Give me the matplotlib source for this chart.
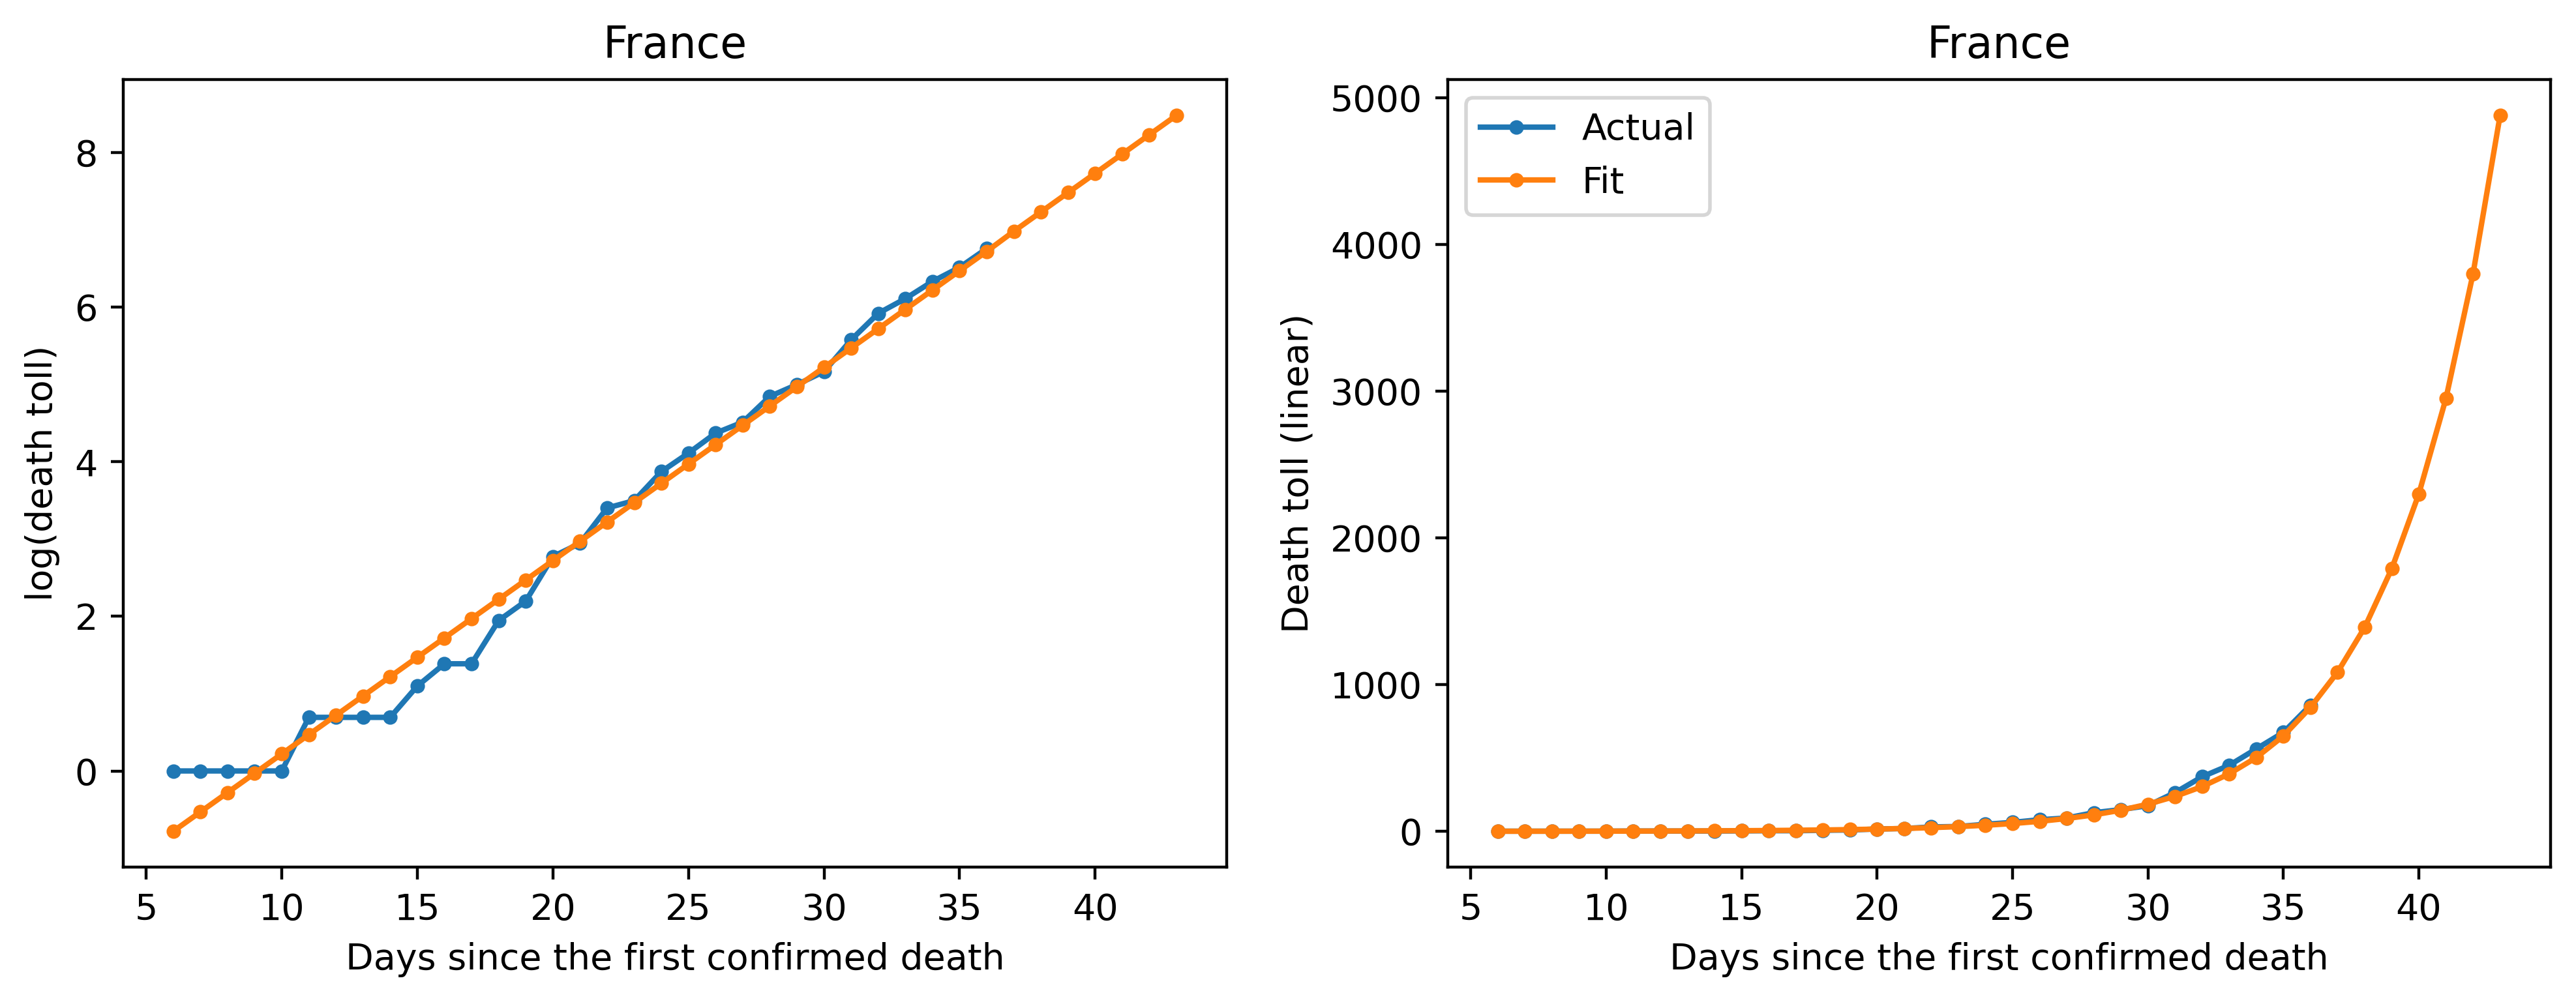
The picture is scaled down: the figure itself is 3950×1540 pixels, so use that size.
import matplotlib
matplotlib.use("Agg")
import matplotlib.pyplot as plt
import numpy as np

matplotlib.rcParams['font.size'] = 10

COUNTRY = "France"

# days with reported deaths (actual) and days of the fitted curve
days_actual = list(range(6, 37))
deaths_actual = [1, 1, 1, 1, 1, 2, 2, 2, 2, 3, 4, 4, 7, 9, 16, 19, 30, 33,
                 48, 61, 79, 91, 127, 148, 175, 264, 372, 450, 562, 674, 860]

days_fit = list(range(6, 44))
log_fit = [-0.78, -0.53, -0.28, -0.03, 0.22, 0.47, 0.72, 0.97, 1.22, 1.47,
           1.72, 1.97, 2.22, 2.47, 2.72, 2.97, 3.22, 3.47, 3.72, 3.97,
           4.22, 4.47, 4.72, 4.97, 5.22, 5.47, 5.72, 5.97, 6.22, 6.47,
           6.72, 6.98, 7.23, 7.48, 7.73, 7.98, 8.23, 8.48]
deaths_fit = [0.46, 0.59, 0.76, 0.97, 1.25, 1.6, 2.05, 2.64, 3.39, 4.35,
              5.58, 7.17, 9.2, 11.8, 15.2, 19.5, 25.0, 32.1, 41.3, 53.0,
              68.0, 87.4, 112, 144, 185, 238, 305, 392, 503, 650,
              845, 1085, 1390, 1790, 2300, 2950, 3800, 4880]


def main():
    fig = plt.figure(figsize=(9.875, 3.85), dpi=400)

    ax1 = fig.add_axes([0.0478, 0.1364, 0.4284, 0.7844])
    ax1.plot(days_actual, np.log(deaths_actual), ".-", label="Actual")
    ax1.plot(days_fit, log_fit, ".-", label="Fit")
    ax1.set_title(COUNTRY)
    ax1.set_xlabel("Days since the first confirmed death")
    ax1.set_ylabel("log(death toll)")

    ax2 = fig.add_axes([0.562, 0.1364, 0.428, 0.7844])
    ax2.plot(days_actual, deaths_actual, ".-", label="Actual")
    ax2.plot(days_fit, deaths_fit, ".-", label="Fit")
    ax2.set_title(COUNTRY)
    ax2.set_xlabel("Days since the first confirmed death")
    ax2.set_ylabel("Death toll (linear)")
    ax2.legend(loc="upper left")

    fig.savefig("out.png", dpi=400)
    plt.close(fig)


if __name__ == '__main__':
    main()
